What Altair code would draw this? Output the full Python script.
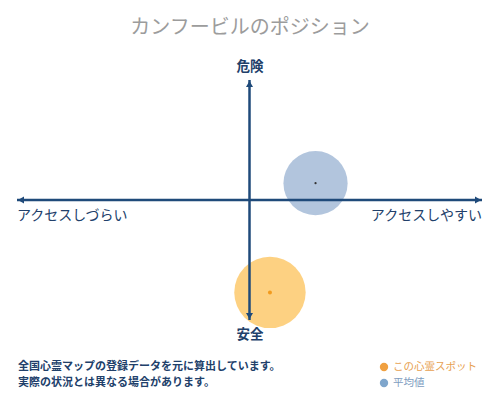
import altair as alt
import pandas as pd

FONT = "Noto Sans CJK JP"

# ---- data ----
spot_names = ["この心霊スポット", "平均値"]
spot_x = [8.8, 28.4]        # アクセスしづらい(-100) … アクセスしやすい(+100)
spot_y = [-77.0, 14.0]      # 安全(-100) … 危険(+100)
spot_spread = [99.0, 80.0]  # circle area measure
spot_fill = ["#fbb22e", "#7e9fc7"]
spot_dot = ["#f29b1e", "#333333"]
spot_dot_size = [16, 5]
legend_colors = ["#f0a040", "#7fa6cc"]
legend_text_colors = ["#e7a151", "#7d9cc0"]

title_text = "カンフービルのポジション"
top_label = "危険"
bottom_label = "安全"
left_label = "アクセスしづらい"
right_label = "アクセスしやすい"
notes = ["全国心霊マップの登録データを元に算出しています。", "実際の状況とは異なる場合があります。"]

AX = 100
navy = "#1f4a7a"
text_navy = "#21406a"

xs = alt.Scale(domain=[-AX, AX], range=[9, 474])
ys = alt.Scale(domain=[-AX, AX], range=[312, 72])

spots = pd.DataFrame({"name": spot_names, "x": spot_x, "y": spot_y,
                      "s": spot_spread, "fill": spot_fill, "dot": spot_dot,
                      "ds": spot_dot_size})

axes_df = pd.DataFrame({"x": [-AX, 0], "x2": [AX, 0], "y": [0, -AX], "y2": [0, AX]})
heads = pd.DataFrame({
    "x": [-AX + 1.7, AX - 1.7, 0, 0],
    "y": [0, 0, AX - 3.3, -AX + 3.3],
    "shape": ["triangle-left", "triangle-right", "triangle-up", "triangle-down"],
})

base = alt.Chart(spots)

circles = base.mark_circle(opacity=0.6).encode(
    x=alt.X("x:Q", scale=xs, axis=None),
    y=alt.Y("y:Q", scale=ys, axis=None),
    size=alt.Size("s:Q", scale=alt.Scale(domain=[0, 100], range=[0, 5150]), legend=None),
    fill=alt.Fill("fill:N", scale=None),
)

rules = alt.Chart(axes_df).mark_rule(color=navy, strokeWidth=2.5).encode(
    x=alt.X("x:Q", scale=xs, axis=None), x2="x2:Q",
    y=alt.Y("y:Q", scale=ys, axis=None), y2="y2:Q",
)

arrowheads = alt.Chart(heads).mark_point(filled=True, size=50, color=navy, opacity=1).encode(
    x=alt.X("x:Q", scale=xs, axis=None),
    y=alt.Y("y:Q", scale=ys, axis=None),
    shape=alt.Shape("shape:N", scale=None),
)

dots = base.mark_circle(opacity=1).encode(
    x=alt.X("x:Q", scale=xs, axis=None),
    y=alt.Y("y:Q", scale=ys, axis=None),
    fill=alt.Fill("dot:N", scale=None),
    size=alt.Size("ds:Q", scale=None),
)

def txt(t, x, y, size, color, align="center", weight="normal"):
    return alt.Chart(pd.DataFrame({"t": [t]})).mark_text(
        font=FONT, fontSize=size, color=color, align=align, baseline="middle",
        fontWeight=weight,
    ).encode(text="t:N", x=alt.value(x), y=alt.value(y))

labels = [
    txt(title_text, 242, 20, 20, "#9c9c9c"),
    txt(top_label, 242, 59, 13.5, text_navy, weight="bold"),
    txt(bottom_label, 242, 327, 13.5, text_navy, weight="bold"),
    txt(left_label, 9, 208, 14, text_navy, align="left"),
    txt(right_label, 474, 208, 14, text_navy, align="right"),
    txt(notes[0], 10, 359, 11, text_navy, align="left", weight="bold"),
    txt(notes[1], 10, 375, 11, text_navy, align="left", weight="bold"),
]

legend_df = pd.DataFrame({"name": spot_names, "c": legend_colors, "tc": legend_text_colors,
                          "row": [0, 1]})
leg_scale = alt.Scale(domain=[0, 1], range=[359, 375])
leg_dots = alt.Chart(legend_df).mark_circle(size=70, opacity=1).encode(
    x=alt.value(376),
    y=alt.Y("row:Q", scale=leg_scale, axis=None),
    fill=alt.Fill("c:N", scale=None),
)
leg_text = alt.Chart(legend_df).mark_text(font=FONT, fontSize=10.5, align="left",
                                          baseline="middle").encode(
    x=alt.value(385),
    y=alt.Y("row:Q", scale=leg_scale, axis=None),
    text="name:N",
    color=alt.Color("tc:N", scale=None),
)

chart = alt.layer(circles, rules, arrowheads, dots, *labels, leg_dots, leg_text).resolve_scale(
    y="independent", size="independent"
).properties(
    width=484, height=384, padding=0,
    autosize=alt.AutoSizeParams(type="none"),
).configure_view(stroke=None)

chart.save("out.html", embed_options={"renderer": "svg", "actions": False})
